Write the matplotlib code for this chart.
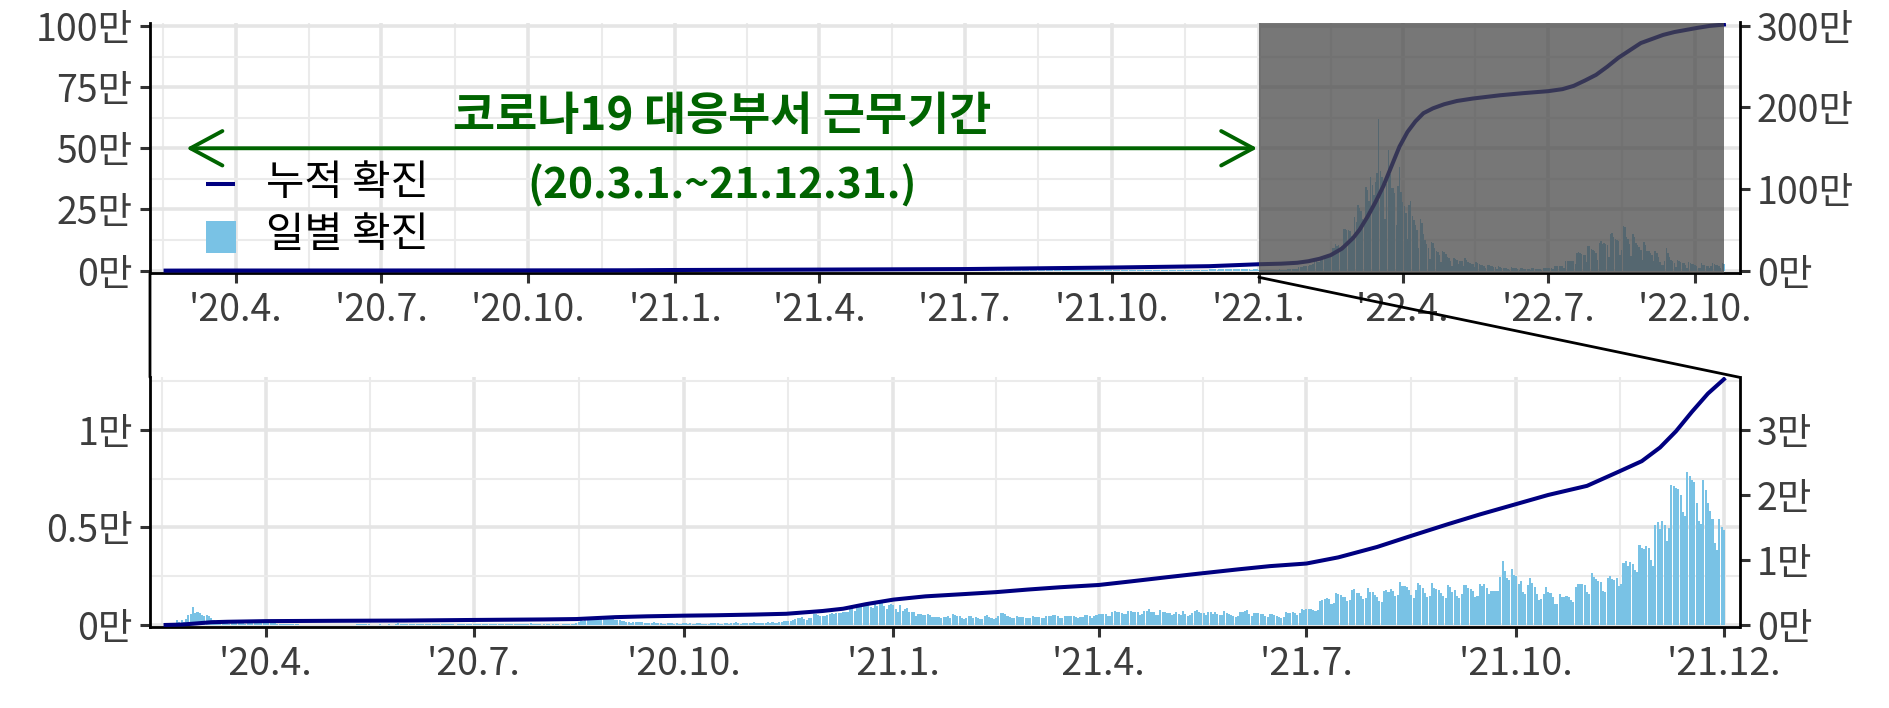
import numpy as np
import pandas as pd
import matplotlib
matplotlib.use("Agg")
import matplotlib.pyplot as plt
import matplotlib.dates as mdates
from matplotlib.patches import Rectangle, ConnectionPatch
from matplotlib.lines import Line2D

plt.rcParams['font.family'] = ['Noto Sans CJK KR', 'DejaVu Sans']

# ---------------- data ----------------
# daily confirmed cases (persons), 2020-02-17 .. 2020-12-31
daily_2020 = [
    1, 1, 20, 53, 100, 229, 169, 231, 144, 284, 505, 571, 909,
    595, 686, 600, 516, 438, 518, 483, 367, 248, 131, 242, 114, 110, 107, 76, 74, 84, 93, 152, 87, 147, 98, 64, 76, 100, 104, 91, 146, 105, 78, 125,
    101, 89, 86, 94, 81, 47, 47, 53, 39, 27, 30, 32, 25, 27, 27, 22, 22, 18, 8, 13, 9, 11, 8, 6, 10, 10, 10, 10, 14, 9,
    4, 9, 6, 13, 8, 3, 2, 4, 12, 18, 34, 35, 27, 26, 29, 27, 19, 13, 15, 13, 32, 12, 20, 23, 25, 16, 19, 40, 79, 58, 39,
    27, 35, 38, 49, 39, 39, 51, 57, 38, 38, 50, 45, 56, 49, 34, 37, 34, 43, 59, 49, 67, 48, 17, 46, 51, 28, 39, 51, 62, 42,
    43, 51, 54, 63, 63, 61, 48, 44, 63, 50, 45, 35, 44, 62, 33, 39, 61, 60, 39, 34, 26, 45, 63, 59, 41, 113, 58, 25, 28, 48, 18,
    36, 31, 30, 23, 34, 33, 43, 20, 43, 36, 28, 34, 54, 56, 103, 166, 279, 197, 246, 297, 288, 324, 332, 397, 266, 280, 320, 441, 371, 323, 299,
    248, 235, 267, 195, 198, 168, 167, 119, 136, 156, 155, 176, 136, 121, 109, 106, 113, 153, 126, 110, 82, 70, 61, 110, 125, 114, 61, 95, 50, 38,
    113, 77, 63, 75, 64, 73, 75, 114, 69, 54, 72, 58, 97, 102, 84, 110, 47, 73, 91, 76, 58, 91, 121, 155, 77, 61, 119, 88, 103, 125, 114,
    127, 124, 97, 75, 118, 125, 145, 89, 143, 126, 100, 146, 143, 191, 205, 208, 223, 230, 313, 343, 363, 386, 330, 271, 349, 382, 583, 569, 504, 450,
    438, 451, 511, 540, 629, 583, 631, 615, 594, 686, 682, 689, 950, 1030, 718, 880, 1078, 1014, 1062, 1097, 1097, 926, 869, 1090, 985, 1240, 1132, 970, 807, 1045, 1050,
]
# 2021-01-01 .. 2021-12-31
daily_2021 = [
    1029, 824, 657, 1020, 715, 840, 869, 674, 641, 665, 451, 537, 562, 524, 513, 580, 520, 389, 386, 404, 400, 346, 431, 392, 437, 349, 559, 497, 469, 458, 355,
    305, 336, 467, 451, 370, 393, 372, 289, 303, 444, 504, 403, 362, 326, 344, 457, 621, 621, 561, 448, 416, 332, 357, 440, 396, 406, 415, 355,
    355, 344, 444, 424, 398, 416, 346, 346, 446, 470, 465, 488, 490, 459, 382, 363, 469, 445, 463, 452, 456, 415, 346, 428, 430, 494, 505, 482, 382, 447, 506,
    551, 558, 543, 543, 473, 478, 668, 700, 671, 677, 614, 587, 542, 731, 698, 673, 658, 672, 532, 549, 731, 735, 797, 644, 644, 500, 512, 769, 680, 661,
    627, 606, 488, 541, 676, 574, 525, 701, 564, 463, 511, 635, 715, 747, 681, 610, 619, 528, 654, 646, 561, 666, 585, 530, 516, 707, 629, 587, 533, 480, 430,
    459, 677, 681, 695, 744, 556, 485, 602, 611, 602, 556, 565, 452, 399, 545, 540, 507, 482, 429, 357, 395, 645, 610, 634, 668, 614, 501, 595, 794, 762,
    826, 825, 794, 743, 711, 746, 1212, 1275, 1316, 1378, 1324, 1100, 1150, 1615, 1600, 1536, 1455, 1454, 1252, 1278, 1784, 1842, 1630, 1629, 1487, 1318, 1365, 1896, 1674, 1710, 1539,
    1442, 1219, 1202, 1725, 1776, 1704, 1823, 1728, 1492, 1537, 2223, 1987, 1990, 1928, 1816, 1556, 1373, 1804, 2152, 2052, 1882, 1626, 1418, 1507, 2154, 1882, 1840, 1793, 1619, 1485, 1372,
    2025, 1961, 1709, 1804, 1490, 1375, 1597, 2050, 2049, 1892, 1865, 1755, 1433, 1497, 2080, 2008, 2087, 1910, 1604, 1729, 1720, 1716, 1720, 2434, 3272, 2769, 2383, 2289, 2885, 2564,
    2486, 2085, 2248, 1673, 1575, 2028, 2427, 2176, 1953, 1594, 1297, 1347, 1584, 1940, 1684, 1616, 1420, 1050, 1073, 1571, 1440, 1423, 1508, 1423, 1266, 1190, 1952, 2111, 2124, 2104, 2061,
    1686, 1589, 2667, 2482, 2344, 2248, 2224, 1758, 1715, 2425, 2520, 2368, 2324, 2419, 2006, 2125, 3187, 3292, 3034, 3206, 3120, 2827, 2699, 4116, 3938, 3901, 4068, 3928, 3308, 3032,
    5123, 5266, 4944, 5352, 5128, 4325, 4954, 7175, 7102, 7022, 6977, 6689, 5817, 5567, 7850, 7622, 7435, 7314, 6236, 5318, 5202, 7456, 6919, 6233, 5841, 5419, 4207, 3865, 5409, 5034, 4875,
]
# 2022-01-01 .. 2022-10-19
daily_2022 = [
    4414, 3833, 3126, 3024, 4444, 4126, 3713, 3511, 3376, 3005, 3094, 4385, 4167, 4538, 4193, 4194, 3857, 4071, 5805, 6603, 6769, 7009, 7630, 7513, 8571, 13012, 14518, 16096, 17542, 17079, 18342,
    20270, 22907, 22907, 27443, 36362, 38691, 35286, 36719, 49567, 54122, 53926, 54941, 56431, 54619, 57177, 90443, 93135, 109831, 102211, 104829, 95362, 99573, 171452, 170016, 165890, 166209, 163566, 139626,
    131709, 219241, 198803, 266853, 254327, 243628, 210716, 202721, 342446, 327549, 282987, 383665, 350190, 309790, 362338, 400741, 621328, 407017, 381454, 334708, 209169, 353980, 490881, 395598, 339514, 335580, 318130, 187213, 347554, 424641, 320743,
    280273, 264171, 234301, 127892, 266135, 286294, 224820, 205333, 185566, 164481, 90928, 210755, 195419, 148443, 125846, 107916, 93001, 47743, 118504, 111319, 90867, 81058, 75449, 64725, 34370, 81595, 76787, 68213, 57464, 50568,
    37771, 20084, 51131, 49064, 42296, 26714, 40064, 38962, 20601, 49933, 43925, 35906, 29581, 27452, 25434, 13296, 35117, 29935, 26206, 23956, 22695, 19293, 9975, 23518, 23945, 19298, 17191, 16584, 13358, 6141, 18816,
    13536, 12542, 10060, 9898, 9830, 5022, 4425, 13358, 12030, 10397, 9314, 7382, 3828, 9435, 9305, 8437, 7198, 7198, 6068, 3530, 9306, 9310, 7493, 7224, 6243, 6239, 3423, 9894, 10455, 9591,
    10717, 10059, 10410, 6253, 18147, 19371, 18511, 19323, 20286, 20410, 12693, 37360, 40266, 38882, 38458, 40342, 40193, 26299, 73582, 76402, 71170, 68632, 65433, 65373, 35883, 99327, 100285, 88384, 85286, 82002, 73589,
    44689, 111789, 119922, 107894, 112901, 110666, 105507, 55292, 149897, 151792, 137241, 128714, 124592, 119603, 62078, 84128, 180803, 178574, 138812, 129411, 110700, 59046, 150497, 139339, 113371, 103961, 95604, 85295, 43126, 115586, 103981,
    81573, 81815, 72120, 62078, 38393, 80998, 71476, 56364, 36920, 22445, 22504, 39360, 93978, 71429, 54676, 44918, 38843, 30647, 14509, 44922, 40597, 36206, 32660, 30854, 24577, 12161, 34794, 32174, 28497, 25792,
    23583, 20107, 10559, 11042, 31549, 24597, 22468, 20817, 17577, 9266, 17511, 29503, 25067, 22253, 21007, 17681, 10032, 30536, 26957,
]

# cumulative line, top panel (right axis, 만)
top_line_dates = ['2020-02-17', '2020-03-15', '2020-07-01', '2020-10-01', '2020-12-01', '2021-01-01',
                  '2021-04-01', '2021-07-01', '2021-10-01', '2021-12-01', '2022-01-01', '2022-01-15',
                  '2022-01-25', '2022-02-01', '2022-02-08', '2022-02-15', '2022-02-22', '2022-03-01',
                  '2022-03-05', '2022-03-10', '2022-03-15', '2022-03-20', '2022-03-25', '2022-03-30',
                  '2022-04-04', '2022-04-09', '2022-04-14', '2022-04-20', '2022-04-27', '2022-05-05',
                  '2022-05-15', '2022-06-01', '2022-06-15', '2022-07-01', '2022-07-10', '2022-07-17',
                  '2022-07-24', '2022-07-31', '2022-08-07', '2022-08-14', '2022-08-21', '2022-08-28',
                  '2022-09-04', '2022-09-11', '2022-09-18', '2022-09-25', '2022-10-02', '2022-10-10',
                  '2022-10-19']
top_line_vals = [0, 0.1, 0.16, 0.29, 0.42, 0.74, 1.24, 1.9, 3.77, 5.43, 7.8, 8.5,
                 9.6, 11.5, 14.5, 19, 27, 40, 50, 66, 84, 104, 128, 152,
                 170, 183, 193, 199, 204, 208, 211, 215, 217.5, 220, 222.5, 226.5,
                 233, 240, 250, 261, 270, 279, 284, 289, 292.5, 295, 297.5, 300,
                 301.7]

# cumulative line, bottom panel (right axis, 만)
bot_line_dates = ['2020-02-17', '2020-02-24', '2020-03-01', '2020-03-08', '2020-03-15', '2020-04-01',
                  '2020-05-01', '2020-06-01', '2020-07-01', '2020-08-01', '2020-08-15', '2020-09-01',
                  '2020-09-15', '2020-10-01', '2020-10-15', '2020-11-01', '2020-11-15', '2020-12-01',
                  '2020-12-10', '2020-12-20', '2021-01-01', '2021-01-15', '2021-02-01', '2021-02-15',
                  '2021-03-01', '2021-03-15', '2021-04-01', '2021-04-15', '2021-05-01', '2021-05-15',
                  '2021-06-01', '2021-06-15', '2021-07-01', '2021-07-15', '2021-08-01', '2021-08-15',
                  '2021-09-01', '2021-09-15', '2021-10-01', '2021-10-15', '2021-11-01', '2021-11-15',
                  '2021-11-25', '2021-12-03', '2021-12-10', '2021-12-17', '2021-12-24', '2021-12-31']
bot_line_vals = [0, 0.006, 0.022, 0.042, 0.049, 0.059, 0.064, 0.068, 0.077, 0.085, 0.091, 0.12,
                 0.133, 0.143, 0.149, 0.16, 0.172, 0.215, 0.25, 0.32, 0.39, 0.44, 0.475, 0.505,
                 0.545, 0.58, 0.615, 0.67, 0.735, 0.79, 0.855, 0.905, 0.945, 1.04, 1.20, 1.36,
                 1.55, 1.70, 1.86, 2.0, 2.14, 2.36, 2.52, 2.73, 2.98, 3.28, 3.56, 3.78]

top_left_ticks = [0, 25, 50, 75, 100]
top_right_ticks = [0, 100, 200, 300]
bot_left_ticks = [0, 0.5, 1]
bot_left_labels = ['0만', '0.5만', '1만']
bot_right_ticks = [0, 1, 2, 3]
top_xticks = ['2020-04-01', '2020-07-01', '2020-10-01', '2021-01-01', '2021-04-01', '2021-07-01',
              '2021-10-01', '2022-01-01', '2022-04-01', '2022-07-01', '2022-10-01']
bot_xticks = ['2020-04-01', '2020-07-01', '2020-10-01', '2021-01-01', '2021-04-01', '2021-07-01',
              '2021-10-01', '2021-12-31']
legend_labels = ['누적 확진', '일별 확진']
period_title = '코로나19 대응부서 근무기간'
period_sub = '(20.3.1.~21.12.31.)'
period_start, period_end = '2020-03-01', '2021-12-31'
zoom_start = '2022-01-01'

# ---------------- derived ----------------
d20 = pd.date_range('2020-02-17', periods=len(daily_2020), freq='D')
d21 = pd.date_range('2021-01-01', periods=len(daily_2021), freq='D')
d22 = pd.date_range('2022-01-01', periods=len(daily_2022), freq='D')
dates_all = d20.append(d21).append(d22)
vals_all = np.array(daily_2020 + daily_2021 + daily_2022) / 1e4
dates_bot = d20.append(d21)
vals_bot = np.array(daily_2020 + daily_2021) / 1e4

NAVY = '#000080'
BAR = '#79C2E5'
GREEN = '#006400'
TICKC = '#3d3d3d'
W, H = 1889, 708

fig = plt.figure(figsize=(W / 100, H / 100), dpi=100)
ax1 = fig.add_axes([150 / W, 1 - 273.3 / H, 1589.5 / W, 250.8 / H])
ax2 = fig.add_axes([150 / W, 1 - 627.3 / H, 1589.5 / W, 250.0 / H])
ax1r = ax1.twinx()
ax2r = ax2.twinx()


def fmt(d):
    t = pd.Timestamp(d)
    return "'%02d.%d." % (t.year % 100, t.month)


def minor_mids(majors):
    m = [pd.Timestamp(x) for x in majors]
    first = m[0] - (m[1] - m[0])
    pts = [first] + m
    return [pts[i] + (pts[i + 1] - pts[i]) / 2 for i in range(len(pts) - 1)]


def style(ax, axr, xt, yt, ylabels, rt, ylim, ymin_minor):
    ax.set_xticks(pd.to_datetime(xt))
    ax.set_xticklabels([fmt(x) for x in xt])
    ax.set_xticks(minor_mids(xt), minor=True)
    ax.set_yticks(yt)
    ax.set_yticklabels(ylabels)
    ax.set_yticks(ymin_minor, minor=True)
    ax.set_ylim(*ylim)
    axr.set_ylim(ylim[0] * 3, ylim[1] * 3)
    axr.set_yticks(rt)
    axr.set_yticklabels(['%d만' % v for v in rt])
    ax.set_axisbelow(True)
    ax.grid(which='major', color='#e5e5e5', lw=2.6)
    ax.grid(which='minor', color='#ebebeb', lw=1.5)
    for a in (ax, axr):
        a.tick_params(which='major', length=7.5, width=2.2, color='#333333',
                      labelsize=27, labelcolor=TICKC, pad=5)
        a.tick_params(which='minor', length=0)
        for s in a.spines.values():
            s.set_visible(False)
    ax.spines['left'].set_visible(True)
    ax.spines['bottom'].set_visible(True)
    axr.spines['right'].set_visible(True)
    for s in (ax.spines['left'], ax.spines['bottom'], axr.spines['right']):
        s.set_color('black')
        s.set_linewidth(2.0)


# ---- top panel ----
ax1.bar(dates_all, vals_all, width=0.9, color=BAR, linewidth=0, zorder=2)
ax1r.plot(pd.to_datetime(top_line_dates), top_line_vals, color=NAVY, lw=2.9, zorder=3,
          solid_joinstyle='round')
pad1 = (dates_all[-1] - dates_all[0]) * 0.01
ax1.set_xlim(dates_all[0] - pad1, dates_all[-1] + pad1)
style(ax1, ax1r, top_xticks, top_left_ticks, ['%d만' % v for v in top_left_ticks],
      top_right_ticks, (-1.1, 101.4), [12.5, 37.5, 62.5, 87.5])
ax1r.axvspan(pd.Timestamp(zoom_start), dates_all[-1], color='#494949', alpha=0.75, lw=0, zorder=6)

# ---- bottom panel ----
ax2.bar(dates_bot, vals_bot, width=0.9, color=BAR, linewidth=0, zorder=2)
ax2r.plot(pd.to_datetime(bot_line_dates), bot_line_vals, color=NAVY, lw=2.9, zorder=3,
          solid_joinstyle='round')
pad2 = (dates_bot[-1] - dates_bot[0]) * 0.01
ax2.set_xlim(dates_bot[0] - pad2, dates_bot[-1] + pad2)
style(ax2, ax2r, bot_xticks, bot_left_ticks, bot_left_labels,
      bot_right_ticks, (-0.012, 1.27), [0.25, 0.75, 1.25])

# ---- period arrow & text ----
ps, pe = pd.Timestamp(period_start), pd.Timestamp(period_end)
pm = ps + (pe - ps) / 2
ax1.annotate('', xy=(pe, 50), xytext=(ps, 50),
             arrowprops=dict(arrowstyle='<->,head_length=1.15,head_width=0.62',
                             color=GREEN, lw=2.8, shrinkA=0, shrinkB=0, mutation_scale=20),
             zorder=8)
ax1.text(pm, 57.5, period_title, ha='center', va='baseline', color=GREEN,
         fontsize=33, fontweight='bold', zorder=8)
ax1.text(pm, 29.6, period_sub, ha='center', va='baseline', color=GREEN,
         fontsize=30.5, fontweight='bold', zorder=8)

# ---- legend (manual) ----
def fx(x):
    return x / W


def fy(y):
    return 1 - y / H


fig.add_artist(Line2D([fx(206), fx(235)], [fy(184), fy(184)], color=NAVY, lw=2.9,
                      transform=fig.transFigure, solid_capstyle='butt'))
fig.add_artist(Rectangle((fx(206), fy(253)), 30 / W, 32 / H, color=BAR,
                         transform=fig.transFigure, lw=0))
fig.text(fx(266), fy(184), legend_labels[0], ha='left', va='center', fontsize=30, color='black')
fig.text(fx(266), fy(236), legend_labels[1], ha='left', va='center', fontsize=30, color='black')

# ---- connectors ----
c1 = ConnectionPatch(xyA=(0, 0), coordsA=ax1.transAxes, xyB=(0, 1), coordsB=ax2.transAxes,
                     color='black', lw=2.0)
fig.add_artist(c1)
c2 = ConnectionPatch(xyA=(mdates.date2num(pd.Timestamp(zoom_start)), -0.016),
                     coordsA=ax1.get_xaxis_transform(), xyB=(1, 1), coordsB=ax2.transAxes,
                     color='black', lw=2.0)
fig.add_artist(c2)

fig.savefig('out.png', dpi=100)
